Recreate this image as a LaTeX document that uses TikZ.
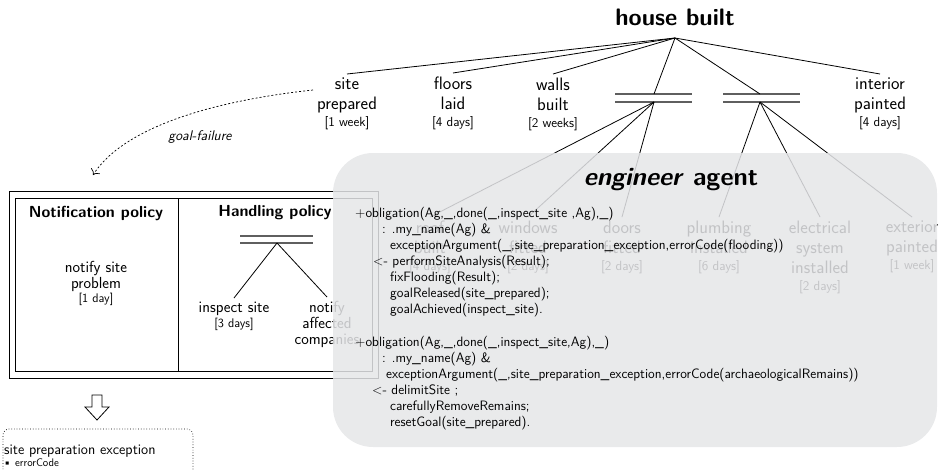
\documentclass[tikz,border=0pt]{standalone}
\usetikzlibrary{arrows.meta}
\definecolor{agentgray}{RGB}{229,230,232}
\definecolor{barline}{RGB}{95,95,95}
\newcommand\durtxt[1]{{\fontsize{13.3}{15}\selectfont[#1]}}
\newcommand\durbox[1]{{\fontsize{12.5}{14}\selectfont[#1]}}
\begin{document}
\begin{tikzpicture}[x=1pt,y=-1pt,
  tree/.style={line width=0.8pt},
  andbar/.style={line width=1.4pt, draw=barline},
  boxline/.style={line width=1pt},
  lbl/.style={font=\fontsize{18}{20}\selectfont\sffamily, align=center,
    inner xsep=0pt, inner ysep=4pt, anchor=north},
  boxlbl/.style={font=\fontsize{16}{16}\selectfont\sffamily, align=center,
    inner xsep=0pt, inner ysep=4pt, anchor=north},
  title/.style={font=\fontsize{16}{18}\selectfont\sffamily\bfseries, inner sep=0pt},
  bigtitle/.style={font=\fontsize{23.8}{26}\selectfont\sffamily\bfseries, inner sep=0pt},
  code/.style={font=\fontsize{13.6}{16}\selectfont\sffamily, align=left,
    anchor=north west, inner sep=0pt}]
\useasboundingbox (0,0) rectangle (940,469);

% goal tree
\node[bigtitle] (root) at (675,17) {house built};
\coordinate (hb) at (675,38);

\node[lbl] (sp) at (347,74) {site\\prepared\\[-3pt]\durtxt{1 week}};
\node[lbl] (fl) at (453,73) {floors\\laid\\[-3pt]\durtxt{4 days}};
\node[lbl] (wb) at (553,74) {walls\\built\\[-3pt]\durtxt{2 weeks}};
\node[lbl] (ip) at (880,74) {interior\\painted\\[-3pt]\durtxt{4 days}};

% parallel (AND) bars
\coordinate (a1t) at (654,94);  \coordinate (a1b) at (654,102);
\coordinate (a2t) at (760,94);  \coordinate (a2b) at (760,102);
\draw[andbar] (615,94) -- (692,94) (615,102) -- (692,102);
\draw[andbar] (723,94) -- (800,94) (723,102) -- (800,102);

\foreach \c in {sp,fl,wb,ip} \draw[tree] (hb) -- (\c.north);
\draw[tree] (hb) -- (a1t);
\draw[tree] (hb) -- (a2t);

\node[lbl] (rb) at (430,217) {roof\\built\\[-3pt]\durtxt{4 days}};
\node[lbl] (wf) at (528,217) {windows\\fitted\\[-3pt]\durtxt{2 days}};
\node[lbl] (df) at (622,217) {doors\\fitted\\[-3pt]\durtxt{2 days}};
\node[lbl] (pi) at (719,217) {plumbing\\installed\\[-3pt]\durtxt{6 days}};
\node[lbl] (es) at (820,217) {electrical\\system\\installed\\[-3pt]\durtxt{2 days}};
\node[lbl] (ep) at (912,217) {exterior\\painted\\[-3pt]\durtxt{1 week}};
\foreach \c in {rb,wf,df} \draw[tree] (a1b) -- (\c.north);
\foreach \c in {pi,es,ep} \draw[tree] (a2b) -- (\c.north);

% exception handling policies
\draw[boxline] (9,191) rectangle (378,378);
\draw[boxline] (15,198) rectangle (372,371);
\draw[boxline] (178,198) -- (178,371);
\node[title] (np) at (96,213) {Notification policy};
\node[title] (hp) at (275,213) {Handling policy};
\node[boxlbl, anchor=center] (ns) at (96,283) {notify site\\problem\\[-2pt]\durbox{1 day}};
\coordinate (hbt) at (277,236); \coordinate (hbb) at (277,243);
\draw[andbar] (240,236) -- (313,236) (240,243) -- (313,243);
\node[boxlbl] (is) at (234,298) {inspect site\\[-1pt]\durbox{3 days}};
\node[boxlbl] (nac) at (327,297) {notify\\affected\\companies};
\draw[tree] (hbb) -- (is.north);
\draw[tree] (hbb) -- (nac.north);

% raised exception
\draw[line width=0.8pt, fill=white]
  (92,395) -- (102,395) -- (102,407) -- (109,407) -- (97,420)
  -- (85,407) -- (92,407) -- cycle;
\draw[dotted, line width=0.7pt, rounded corners=6pt]
  (3,480) -- (3,429) -- (193,429) -- (193,480);
\node[anchor=base west, inner sep=0pt, font=\fontsize{14.5}{17}\selectfont\sffamily]
  (exc) at (4,454) {site preparation exception};
\node[anchor=base west, inner sep=0pt, font=\fontsize{11}{12}\selectfont\sffamily]
  (exa) at (3,466) {\textbullet\ errorCode};

% goal failure link
\coordinate (gfs) at (313,90);
\coordinate (gfe) at (93,175);
\draw[line width=0.7pt, dash pattern=on 2pt off 2pt, -{To[length=5pt]}]
  (gfs) .. controls (220,100) and (125,125) .. (gfe);
\node[font=\fontsize{14}{16}\selectfont\sffamily\itshape] (gfl) at (200,137) {goal-failure};

% engineer agent
\fill[agentgray, fill opacity=0.85, rounded corners=40pt] (333,153) rectangle (937,447);
\node[bigtitle, font=\fontsize{25.5}{28}\selectfont\sffamily\bfseries] (eng) at (671,180) {\textsl{engineer} agent};

\node[code] (c1) at (355,207.5) {%
+obligation(Ag,\_,done(\_,inspect\_site ,Ag),\_)\\
\hspace*{27pt}: .my\_name(Ag) \&\\
\hspace*{35pt}exceptionArgument(\_,site\_preparation\_exception,errorCode(flooding))\\
\hspace*{18pt}<- performSiteAnalysis(Result);\\
\hspace*{35pt}fixFlooding(Result);\\
\hspace*{35pt}goalReleased(site\_prepared);\\
\hspace*{35pt}goalAchieved(inspect\_site).};

\node[code] (c2) at (355,336.5) {%
+obligation(Ag,\_,done(\_,inspect\_site,Ag),\_)\\
\hspace*{27pt}: .my\_name(Ag) \&\\
\hspace*{31pt}exceptionArgument(\_,site\_preparation\_exception,errorCode(archaeologicalRemains))\\
\hspace*{17pt}<- delimitSite ;\\
\hspace*{35pt}carefullyRemoveRemains;\\
\hspace*{35pt}resetGoal(site\_prepared).};
\end{tikzpicture}
\end{document}
